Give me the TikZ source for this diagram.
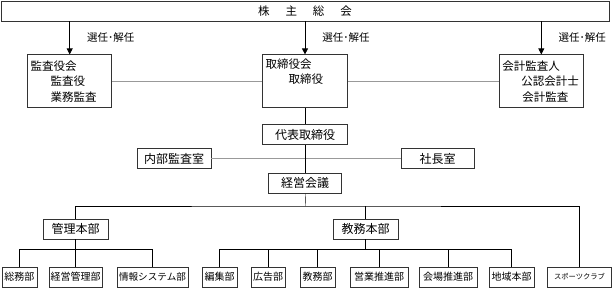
\documentclass[tikz,border=0pt]{standalone}
\usepackage{fontspec}
\setmainfont{Noto Sans CJK JP}
\usepackage{tikz}
\usetikzlibrary{arrows.meta, positioning}

\begin{document}
\begin{tikzpicture}[x=1pt, y=-1pt,
  font=\fontsize{11.5}{15.5}\selectfont,
  box/.style={draw=black!80, line width=0.8pt, align=center, inner sep=1pt},
  board/.style={box, align=left, text width=78pt, inner xsep=3pt,
                minimum height=53pt},
  mid/.style={box, minimum height=20pt, font=\fontsize{12}{14}\selectfont},
  dept/.style={box, minimum height=20pt, font=\fontsize{10}{12}\selectfont},
  lbl/.style={inner sep=0pt, font=\fontsize{10.5}{12}\selectfont},
  arr/.style={-{Triangle[length=6pt, width=6pt]}, line width=0.8pt},
  link/.style={black!40, line width=1.6pt}]

  \useasboundingbox (0,0) rectangle (612,290);

  \node[box, minimum width=608pt, minimum height=20pt] (sh) at (305,11)
    {株\hspace{16pt}主\hspace{16pt}総\hspace{16pt}会};

  % board level
  \node[board, below=33pt of sh, text width=79pt] (tori)
    {取締役会\\ \hspace{23pt}取締役\\ \strut};
  \node[board, left=150pt of tori] (kansa)
    {監査役会\\ \hspace{20pt}監査役\\ \hspace{20pt}業務監査};
  \node[board, right=151pt of tori] (kaikei)
    {会計監査人\\ \hspace{19pt}公認会計士\\ \hspace{20pt}会計監査};

  \draw[arr] (sh.south -| kansa) -- (kansa)
    node[midway, right=17pt, lbl]{選任･解任};
  \draw[arr] (sh.south -| tori) -- (tori)
    node[midway, right=17pt, lbl]{選任･解任};
  \draw[arr] (sh.south -| kaikei) -- (kaikei)
    node[midway, right=17pt, lbl]{選任･解任};
  \draw[link] (kansa) -- (tori);
  \draw[link] (tori) -- (kaikei);

  % executives
  \node[mid, below=16pt of tori, minimum width=85pt] (daihyo) {代表取締役};
  \node[mid, below=28pt of daihyo, minimum width=73pt] (keiei) {経営会議};
  \node[mid, minimum width=74pt] (naibu) at (174,158.5) {内部監査室};
  \node[mid, minimum width=73pt] (shacho) at (437.5,158.5) {社長室};
  \draw[link] (naibu) -- (shacho);
  \draw (tori) -- (daihyo);
  \draw (daihyo) -- (keiei);

  \node[mid, minimum width=65pt] (kanri) at (75.5,229) {管理本部};
  \node[mid, minimum width=65pt] (kyomu) at (365.5,229) {教務本部};

  % departments
  \node[dept, minimum width=35pt] (soumu) at (19.5,277) {総務部};
  \node[dept, minimum width=53pt] (keikan) at (75.5,277) {経営管理部};
  \node[dept, minimum width=71pt, font=\fontsize{9.6}{12}\selectfont] (joho)
    at (152.5,277) {情報システム部};
  \node[dept, minimum width=35pt] (henshu) at (219.5,277) {編集部};
  \node[dept, minimum width=34pt] (kokoku) at (268,277) {広告部};
  \node[dept, minimum width=35pt] (kyomubu) at (317.5,277) {教務部};
  \node[dept, minimum width=58pt] (eigyo) at (379,277) {営業推進部};
  \node[dept, minimum width=58pt] (kaijo) at (448,277) {会場推進部};
  \node[dept, minimum width=45pt] (chiiki) at (511.5,277) {地域本部};
  \node[dept, minimum width=64pt, font=\fontsize{7.3}{9}\selectfont] (sports)
    at (579.5,277) {スポーツクラブ};

  \coordinate (bus1) at (305.5,206);
  \coordinate (bus2) at (75.5,249.5);
  \coordinate (bus3) at (365.5,249.5);

  \draw (keiei) -- (bus1);
  \draw (kanri) |- (bus1) -| (sports);
  \draw (kyomu) -- (kyomu |- bus1);

  \draw (kanri) -- (bus2);
  \draw (soumu) |- (bus2) -| (joho);
  \draw (bus2) -- (keikan);

  \draw (kyomu) -- (bus3);
  \draw (henshu) |- (bus3) -| (chiiki);
  \draw (kokoku) -- (kokoku |- bus3);
  \draw (kyomubu) -- (kyomubu |- bus3);
  \draw (eigyo) -- (eigyo |- bus3);
  \draw (kaijo) -- (kaijo |- bus3);
\end{tikzpicture}
\end{document}
